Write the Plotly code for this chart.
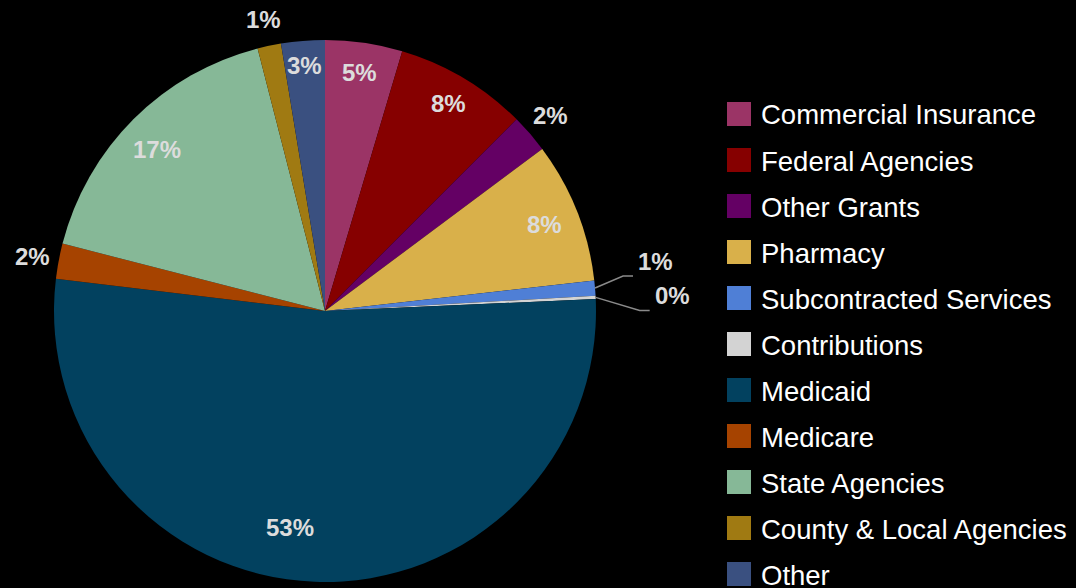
import math
import plotly.graph_objects as go

# ---- data ----
labels = ["Commercial Insurance", "Federal Agencies", "Other Grants", "Pharmacy",
          "Subcontracted Services", "Contributions", "Medicaid", "Medicare",
          "State Agencies", "County & Local Agencies", "Other"]
shares = [4.6, 7.9, 2.3, 8.4, 0.9, 0.2, 52.6, 2.1, 17.0, 1.4, 2.6]
colors = ["#9b3466", "#860000", "#640064", "#d9b04a", "#4f7fd6", "#d3d3d3",
          "#02415f", "#a64300", "#86b897", "#a07a12", "#3a5080"]

# ---- style ----
W, H = 1076, 588
CX, CY, R = 325, 311, 271
# label radius as fraction of pie radius (None = leader-line label)
label_r = [0.89, 0.89, 1.10, 0.87, None, None, 0.81, 1.10, 0.86, 1.10, 0.91]
# small angular nudge of label (degrees, clockwise)
label_nudge = [0, 0, 0, 0, 0, 0, 7, 0, -1, 0, 0]
# leader-line elbows (dx, dy from slice edge) and horizontal run length
leader = {4: (28, -12, 10), 5: (44, 13, 10)}
PCT_FONT = dict(family="Liberation Sans, Arial, sans-serif", size=24, color="#dcdcdc")
LEG_FONT = dict(family="Liberation Sans, Arial, sans-serif", size=27.5, color="#ffffff")
LEG_X, LEG_Y0, LEG_STEP, SQ = 727, 114, 46, 24


def px(x):
    return x / W


def py(y):
    return 1 - y / H


total = sum(shares)
fig = go.Figure(go.Pie(
    labels=labels, values=shares, sort=False, direction="clockwise", rotation=0,
    marker=dict(colors=colors, line=dict(width=0)),
    textinfo="none", hoverinfo="label+percent", showlegend=False,
    domain=dict(x=[px(CX - R), px(CX + R)], y=[py(CY + R), py(CY - R)]),
))

annotations = []
shapes = []
cum = 0.0
for i, v in enumerate(shares):
    mid = (cum + v / 2) / total * 2 * math.pi + math.radians(label_nudge[i])
    cum += v
    txt = f"<b>{round(v / total * 100)}%</b>"
    s, c = math.sin(mid), math.cos(mid)
    if label_r[i] is not None:
        lx, ly = CX + label_r[i] * R * s, CY - label_r[i] * R * c
        annotations.append(dict(x=px(lx), y=py(ly), xref="paper", yref="paper",
                                text=txt, showarrow=False, font=PCT_FONT,
                                xanchor="center", yanchor="middle"))
    else:
        ex, ey = CX + R * s, CY - R * c
        dx, dy, run = leader[i]
        bx, by = ex + dx, ey + dy
        fx = bx + run
        shapes.append(dict(type="path", xref="paper", yref="paper",
                           path=f"M {px(ex)},{py(ey)} L {px(bx)},{py(by)} L {px(fx)},{py(by)}",
                           line=dict(color="#8a8a8a", width=1.5)))
        annotations.append(dict(x=px(fx + 3), y=py(by + 1), xref="paper", yref="paper",
                                text=txt, showarrow=False, font=PCT_FONT,
                                xanchor="left", yanchor="bottom"))

# legend built from labels and colors
for i, (lab, col) in enumerate(zip(labels, colors)):
    yc = LEG_Y0 + i * LEG_STEP
    shapes.append(dict(type="rect", xref="paper", yref="paper",
                       x0=px(LEG_X), x1=px(LEG_X + SQ), y0=py(yc + SQ / 2), y1=py(yc - SQ / 2),
                       fillcolor=col, line=dict(width=0)))
    annotations.append(dict(x=px(LEG_X + SQ + 8), y=py(yc + 1), xref="paper", yref="paper",
                            text=lab, showarrow=False, font=LEG_FONT,
                            xanchor="left", yanchor="middle"))

fig.update_layout(
    width=W, height=H, margin=dict(l=0, r=0, t=0, b=0),
    paper_bgcolor="#000000", plot_bgcolor="#000000",
    annotations=annotations, shapes=shapes, showlegend=False,
)
fig.write_html(
    "out.html",
    config={"displayModeBar": False},
    post_script="document.body.style.margin='0';document.body.style.background='#000';"
                "document.body.style.overflow='hidden';",
)
